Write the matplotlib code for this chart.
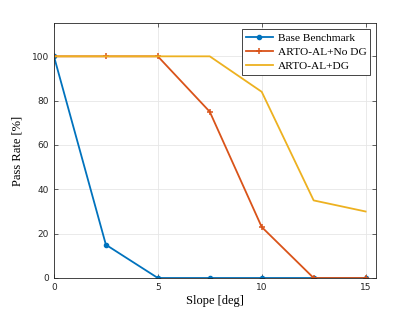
import matplotlib
matplotlib.use("Agg")
import matplotlib.pyplot as plt

slope = [0, 2.5, 5, 7.5, 10, 12.5, 15]
base = [100, 15, 0, 0, 0, 0, 0]
no_dg = [100, 100, 100, 75, 23, 0, 0]
dg = [100, 100, 100, 100, 84, 35, 30]

fig = plt.figure(figsize=(4.15, 3.12), dpi=100)
ax = fig.add_axes([0.130, 0.109, 0.776, 0.817])

ax.plot(slope, base, color="#0072BD", lw=1.3, marker="o", ms=3, label="Base Benchmark")
ax.plot(slope, no_dg, color="#D95319", lw=1.3, marker="+", ms=5, mew=1.1, label="ARTO-AL+No DG")
ax.plot(slope, dg, color="#EDB120", lw=1.3, label="ARTO-AL+DG")

ax.set_xlim(0, 15.5)
ax.set_ylim(0, 115)
ax.set_xticks([0, 5, 10, 15])
ax.set_yticks([0, 20, 40, 60, 80, 100])
ax.grid(True, color="#e6e6e6", lw=0.6)
ax.set_axisbelow(True)
ax.tick_params(direction="in", top=True, right=True, labelsize=6.5,
               colors="#262626", length=3, width=0.5)
for s in ax.spines.values():
    s.set_color("#262626")
    s.set_linewidth(0.6)
ax.set_xlabel("Slope [deg]", family="Liberation Serif", fontsize=9, labelpad=2)
ax.set_ylabel("Pass Rate [%]", family="Liberation Serif", fontsize=9, labelpad=6)

leg = ax.legend(loc="upper right", prop={"family": "Liberation Serif", "size": 8.2},
                fancybox=False, edgecolor="#262626", framealpha=1,
                borderpad=0.35, handlelength=2.4, labelspacing=0.35,
                handletextpad=0.4, borderaxespad=0.5)
leg.get_frame().set_linewidth(0.6)

fig.savefig("out.png", dpi=100)
